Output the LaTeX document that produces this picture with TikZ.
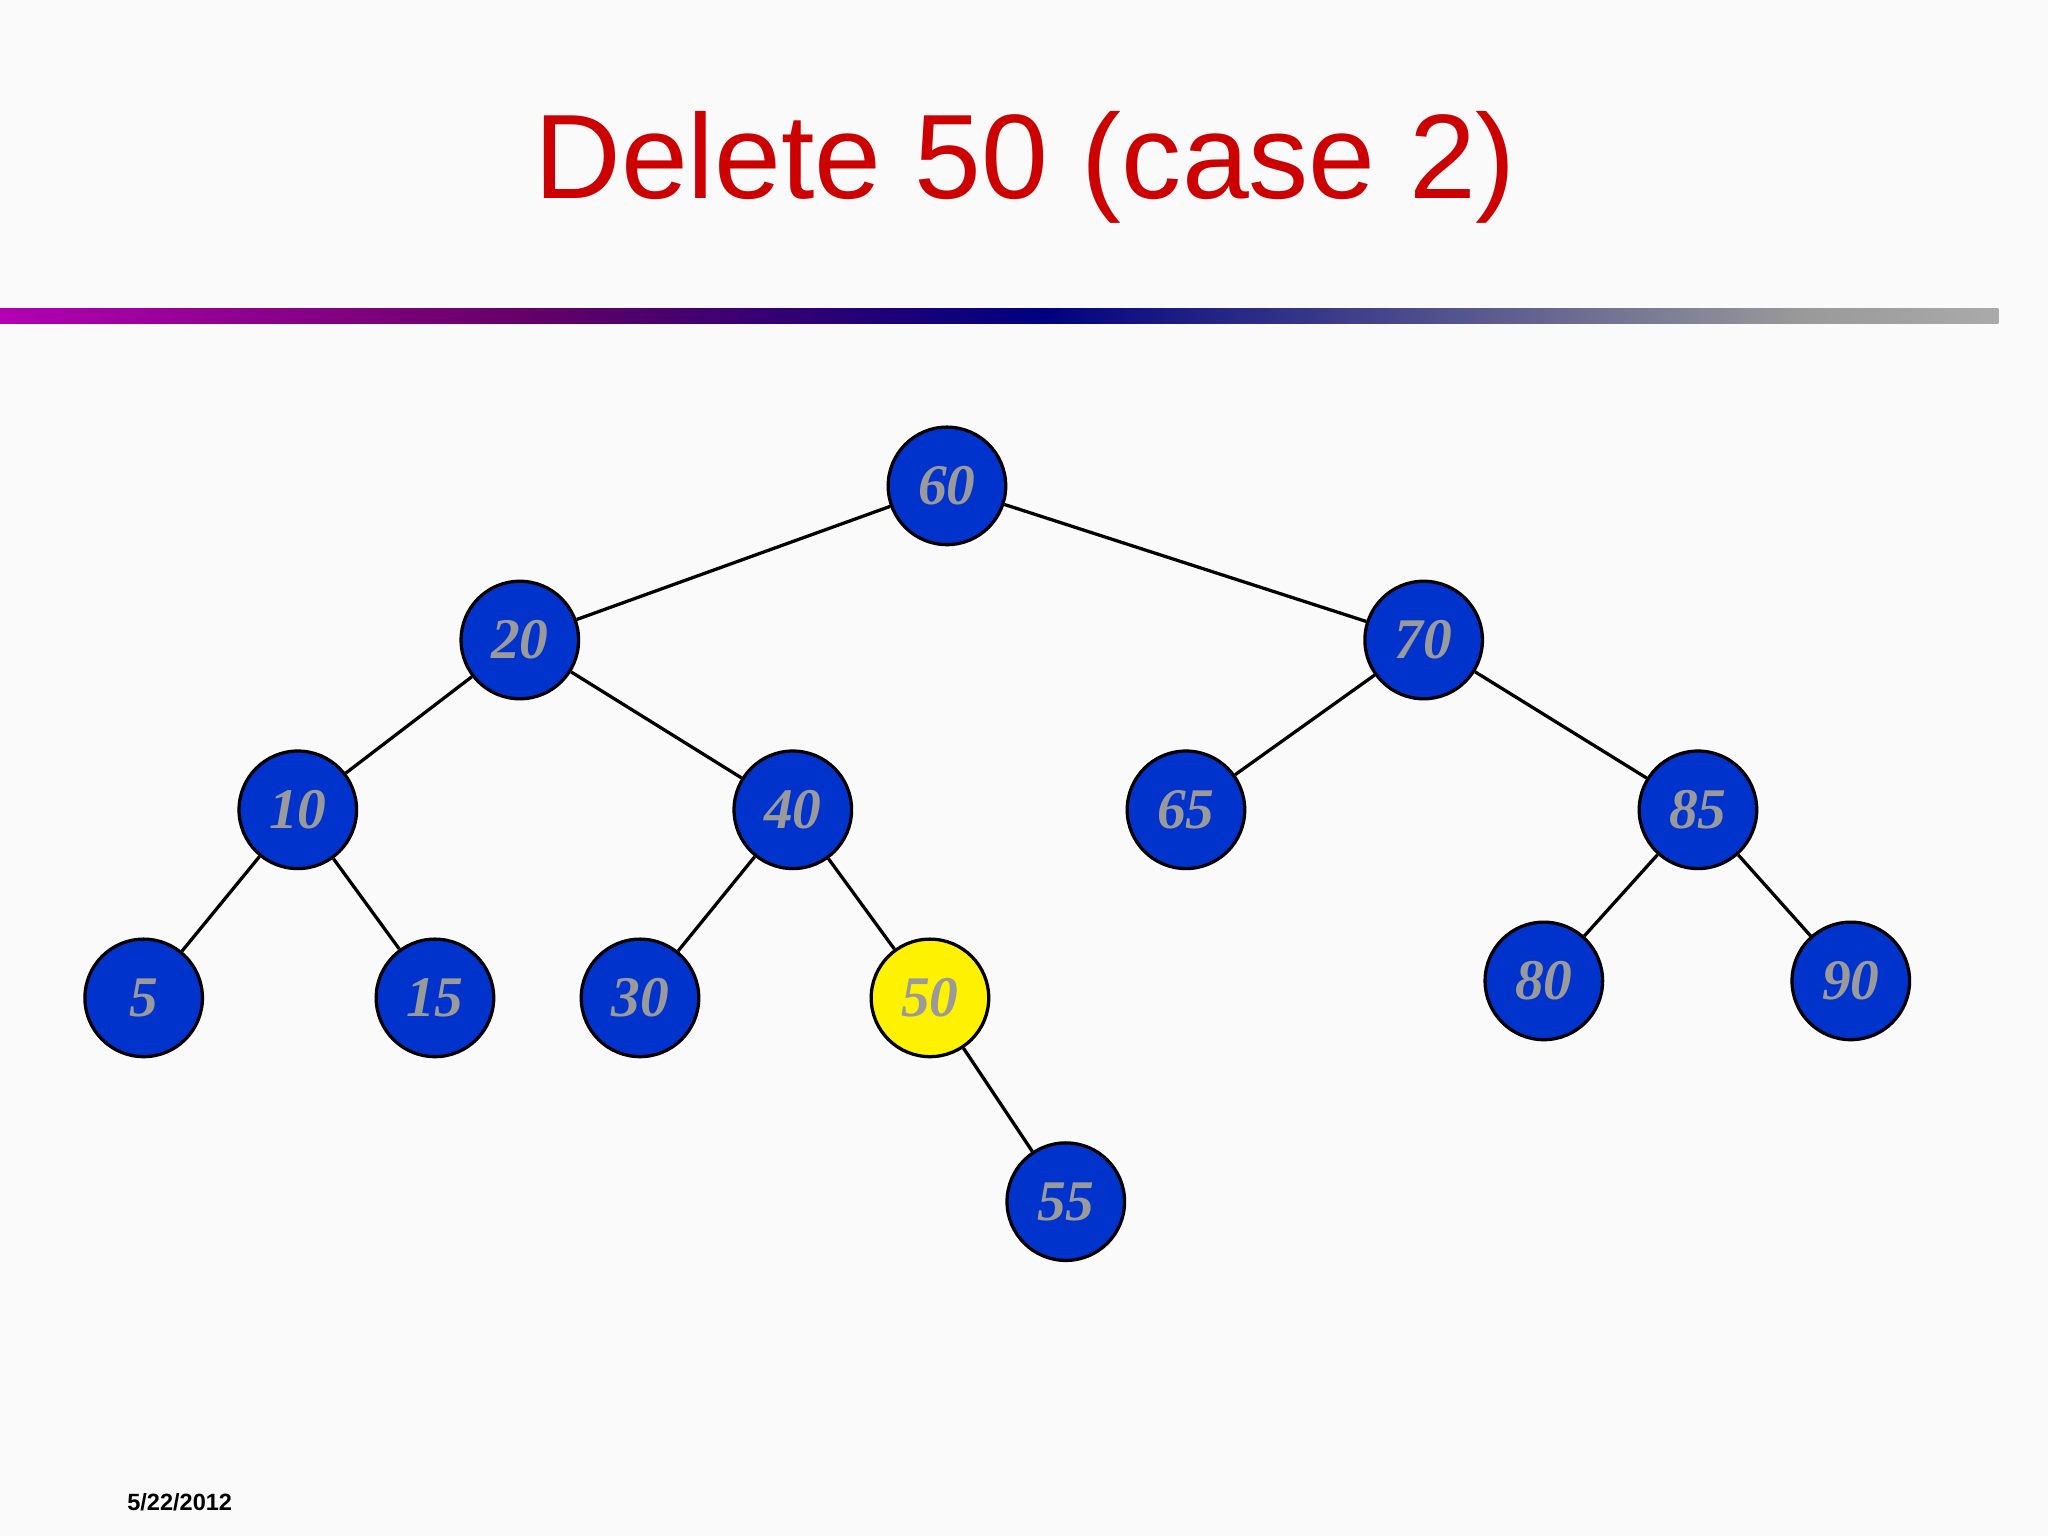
\documentclass[tikz,border=0pt]{standalone}
\usepackage{fontspec}
\setmainfont{Liberation Serif}
\newfontfamily\arialf{Liberation Sans}
\definecolor{nodeblue}{HTML}{0033CC}
\definecolor{numgray}{HTML}{9A9A9A}
\definecolor{titlered}{HTML}{CC0000}
\pgfdeclarehorizontalshading{barshade}{100bp}{color(0bp)=(orange!90!yellow); color(6bp)=(red); color(25bp)=(magenta!70!black); color(38bp)=(violet!80!black); color(51bp)=(blue!50!black); color(70bp)=(gray!80); color(100bp)=(white)}
\begin{document}
\begin{tikzpicture}[x=1pt,y=-1pt,
  tn/.style={circle,draw=black,line width=2.5pt,fill=nodeblue,minimum size=90pt,inner sep=0pt,
    text=numgray,font=\fontsize{44}{44}\selectfont\bfseries\itshape},
  hl/.style={tn,fill=yellow},
  edge/.style={line width=2.5pt,black}]
\fill[white!98!black] (0,0) rectangle (1568,1176);
\useasboundingbox (0,0) rectangle (1568,1176);
\node[text=titlered,font=\arialf\fontsize{92}{92}\selectfont] (title) at (785,128) {Delete 50 (case 2)};
\shade[shading=barshade] (0,236) rectangle (1530,248);
\node[font=\arialf\bfseries\fontsize{18}{18}\selectfont,anchor=west] (date) at (94,1150) {5/22/2012};
\node[tn] (n60) at (725,372) {60};
\node[tn] (n20) at (398,490) {20};
\node[tn] (n70) at (1090,490) {70};
\node[tn] (n10) at (228,620) {10};
\node[tn] (n40) at (607,620) {40};
\node[tn] (n65) at (908,620) {65};
\node[tn] (n85) at (1300,620) {85};
\node[tn] (n5) at (110,764) {5};
\node[tn] (n15) at (333,764) {15};
\node[tn] (n30) at (490,764) {30};
\node[hl] (n50) at (712,764) {50};
\node[tn] (n80) at (1182,751) {80};
\node[tn] (n90) at (1417,751) {90};
\node[tn] (n55) at (816,920) {55};
\foreach \a/\b in {n60/n20,n60/n70,n20/n10,n20/n40,n70/n65,n70/n85,n10/n5,n10/n15,n40/n30,n40/n50,n85/n80,n85/n90,n50/n55}
  \draw[edge] (\a) -- (\b);
\end{tikzpicture}
\end{document}
